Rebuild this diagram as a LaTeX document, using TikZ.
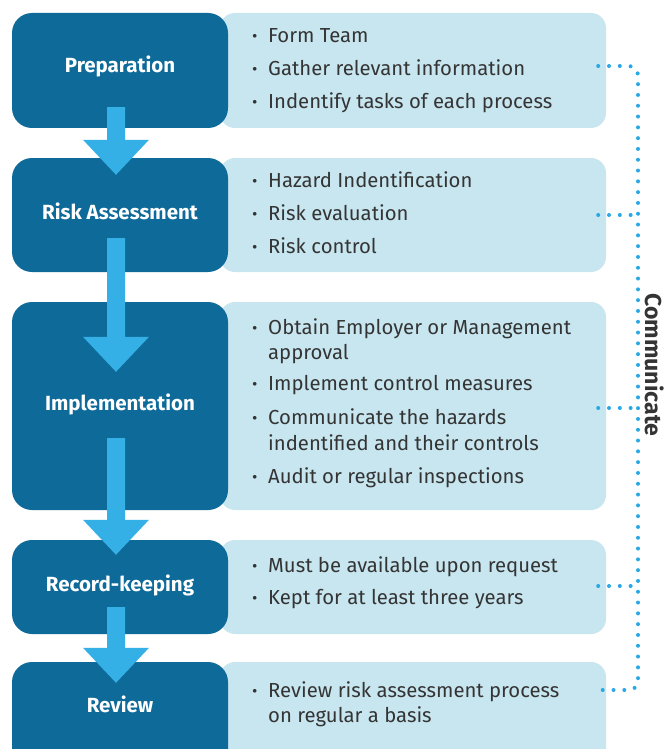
\documentclass[tikz,border=0pt]{standalone}
\usepackage{fontspec}
\setmainfont{Fira Sans}
\usetikzlibrary{calc}

\definecolor{stepblue}{RGB}{14,106,153}
\definecolor{flowblue}{RGB}{52,176,230}
\definecolor{notefill}{RGB}{200,230,240}
\definecolor{inkgray}{RGB}{52,52,52}
\definecolor{dotblue}{RGB}{40,168,228}

% block arrow from one step box to the next:
% #1 source node, #2 target node, #3 shaft start above source bottom, #4 tip below target top
\newcommand\flowarrow[4]{%
  \fill[flowblue]
    let \p1=($(#1.south)+(-4,-#3)$), \p2=($(#2.north)+(-4,#4)$) in
    (\x1-9pt,\y1) -- (\x1+9pt,\y1) -- (\x1+9pt,\y2+35pt) -- (\x1+33pt,\y2+35pt)
    -- (\x1,\y2) -- (\x1-33pt,\y2+35pt) -- (\x1-9pt,\y2+35pt) -- cycle;}

\begin{document}
\begin{tikzpicture}[x=1pt,y=-1pt,
  stepbox/.style={fill=stepblue, rounded corners=20pt, minimum width=216pt,
    inner sep=0pt, text=white, font=\fontsize{20.5}{24}\selectfont\bfseries,
    text height=14pt, text depth=6pt},
  notebox/.style={fill=notefill, rounded corners=15pt, minimum width=386pt, inner sep=0pt},
  itemtext/.style={anchor=base west, inner sep=0pt, text=inkgray,
    font=\fontsize{20.3}{24}\selectfont},
  dotline/.style={draw=dotblue, line width=4pt, line cap=round,
    dash pattern=on 0pt off 10.8pt}]

\path[use as bounding box] (0,0) rectangle (664,749);
\clip (0,0) rectangle (664,749);

% note panels
\node[notebox, minimum height=115pt] (l1) at (413,70.5) {};
\node[notebox, minimum height=114pt] (l2) at (413,215) {};
\node[notebox, minimum height=208pt] (l3) at (413,406) {};
\node[notebox, minimum height=94pt]  (l4) at (413,587) {};
\node[notebox, minimum height=118pt] (l5) at (413,721) {};

% process steps
\node[stepbox, minimum height=115pt, text depth=9pt] (p) at (120,70.5) {Preparation};
\node[stepbox, minimum height=114pt] (r) at (120,215) {Risk Assessment};
\node[stepbox, minimum height=208pt] (i) at (120,406) {Implementation};
\node[stepbox, minimum height=94pt]  (k) at (120,587) {Record-keeping};
\node[stepbox, minimum height=118pt] (v) at (120,721) {};
\node[stepbox, fill=none, minimum height=0pt] (vt) at (120,708) {Review};

% flow arrows
\flowarrow{p}{r}{21}{17}
\flowarrow{r}{i}{34}{70}
\flowarrow{i}{k}{72}{15}
\flowarrow{k}{v}{27}{21}

% bullet items
\newcommand\bul{\llap{\textbf{·}\hspace{11pt}}}
\node[itemtext] (a1) at (268,42.7) {\bul Form Team};
\node[itemtext] (a2) at (268,75.5) {\bul Gather relevant information};
\node[itemtext] (a3) at (268,108.3) {\bul Indentify tasks of each process};

\node[itemtext] (b1) at (268,187) {\bul Hazard Indentification};
\node[itemtext] (b2) at (268,220) {\bul Risk evaluation};
\node[itemtext] (b3) at (268,253) {\bul Risk control};

\node[itemtext] (c1) at (268,334) {\bul Obtain Employer or Management};
\node[itemtext] (c1b) at (268,359) {approval};
\node[itemtext] (c2) at (268,390) {\bul Implement control measures};
\node[itemtext] (c3) at (268,424) {\bul Communicate the hazards};
\node[itemtext] (c3b) at (268,450) {indentified and their controls};
\node[itemtext] (c4) at (268,483) {\bul Audit or regular inspections};

\node[itemtext] (d1) at (268,572) {\bul Must be available upon request};
\node[itemtext] (d2) at (268,604) {\bul Kept for at least three years};

\node[itemtext] (e1) at (268,697) {\bul Review risk assessment process};
\node[itemtext] (e1b) at (268,722) {on regular a basis};

% communication line
\coordinate (bus) at (638,0);
\draw[dotline, rounded corners=9pt]
  ([xshift=-8pt,yshift=4.5pt]l1.east) -- ([yshift=4.5pt]l1.east -| bus)
  -- ([yshift=31pt]l5.east -| bus) -- ([xshift=-6pt,yshift=31pt]l5.east);
\draw[dotline] ([xshift=-8pt]l2.east) -- (l2.east -| bus);
\draw[dotline] ([xshift=-8pt,yshift=-2pt]l3.east) -- ([yshift=-2pt]l3.east -| bus);
\draw[dotline] ([xshift=-8pt,yshift=1pt]l4.east) -- ([yshift=1pt]l4.east -| bus);

\node[rotate=-90, text=inkgray, inner sep=0pt,
  font=\fontsize{23}{26}\selectfont\bfseries] (comm) at (655,365) {Communicate};
\end{tikzpicture}
\end{document}
